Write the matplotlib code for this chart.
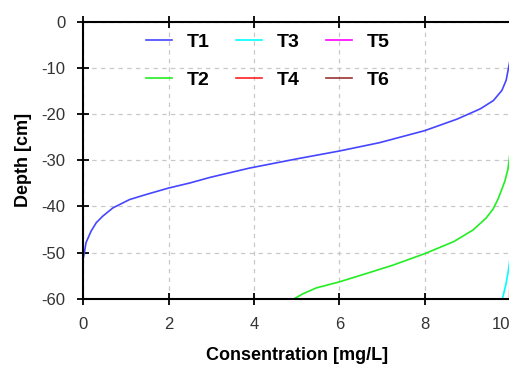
import matplotlib.pyplot as plt
import matplotlib

matplotlib.rcParams['font.family'] = ['Liberation Sans', 'DejaVu Sans']
matplotlib.rcParams['axes.unicode_minus'] = False

# concentration profiles (x = concentration, y = depth)
t1_x = [0.0, 0.02, 0.06, 0.18, 0.3, 0.45, 0.69, 1.08, 1.47, 2.0, 2.5, 2.97, 3.89, 5.0, 6.0, 6.94, 8.0,
        8.76, 9.3, 9.61, 9.81, 9.91, 9.97, 10.0]
t1_y = [-51.0, -50.0, -47.8, -45.3, -43.5, -42.1, -40.3, -38.5, -37.4, -36.0, -34.9, -33.7, -31.7, -29.7,
        -28.0, -26.2, -23.6, -21.1, -18.9, -17.1, -14.9, -12.7, -9.8, -8.4]
t2_x = [4.93, 5.14, 5.46, 6.0, 6.63, 7.25, 8.0, 8.68, 9.13, 9.44, 9.6, 9.72, 9.82, 9.88, 9.95, 10.0]
t2_y = [-60.0, -58.9, -57.6, -56.3, -54.5, -52.7, -50.2, -47.6, -45.1, -42.5, -40.6, -38.4, -36.0, -34.5,
        -32.0, -28.5]
t3_x = [9.82, 9.9, 9.96, 10.0]
t3_y = [-60.0, -57.0, -54.0, -51.2]
t4_x = [9.99, 10.0]
t4_y = [-60.0, -55.0]
t5_x, t5_y = [], []
t6_x, t6_y = [], []

series = [('T1', t1_x, t1_y, '#4646ff'),
          ('T2', t2_x, t2_y, '#22ee22'),
          ('T3', t3_x, t3_y, '#00ffff'),
          ('T4', t4_x, t4_y, '#ff2020'),
          ('T5', t5_x, t5_y, '#ff00ff'),
          ('T6', t6_x, t6_y, '#993333')]

fig = plt.figure(figsize=(5.1, 3.67), dpi=100)
ax = fig.add_axes([0.1637, 0.1853, 0.8363, 0.7561])

for name, xs, ys, c in series:
    ax.plot(xs, ys, color=c, lw=1.2, label=name)

ax.set_xlim(0, 10)
ax.set_ylim(-60, 0)
ax.set_xticks([0, 2, 4, 6, 8, 10])
ax.set_yticks([0, -10, -20, -30, -40, -50, -60])
ax.grid(True, color='#c8c8c8', linestyle=(0, (3.5, 3.5)), lw=0.9)
ax.spines['right'].set_visible(False)
for s in ['left', 'top', 'bottom']:
    ax.spines[s].set_linewidth(1.5)
ax.tick_params(direction='inout', length=8, width=1.3, top=True, labelsize=12,
               labelcolor='#333333', pad=9)
ax.get_xticklabels()[-1].set_horizontalalignment('right')

ax.set_xlabel('Consentration [mg/L]', fontsize=13, fontweight='bold', labelpad=11)
ax.set_ylabel('Depth [cm]', fontsize=13, fontweight='bold', labelpad=7)

leg = ax.legend(ncol=3, loc='upper left', bbox_to_anchor=(0.106, 1.02), frameon=False,
                prop={'weight': 'bold', 'size': 14}, handlelength=1.34,
                columnspacing=1.34, labelspacing=1.05, handletextpad=0.77)

plt.savefig('out.png', dpi=100)
